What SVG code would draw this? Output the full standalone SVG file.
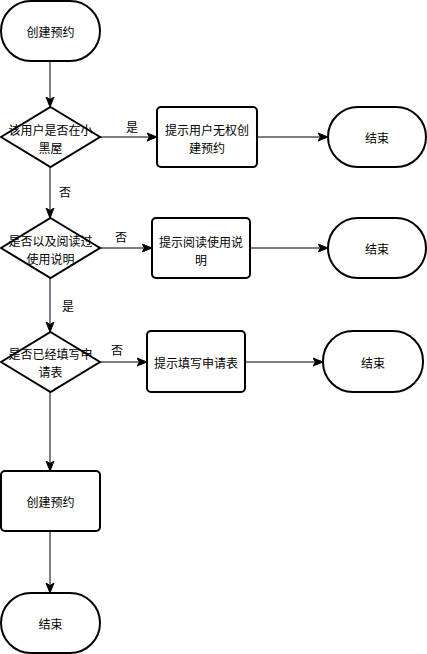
<svg xmlns="http://www.w3.org/2000/svg" width="427" height="654" viewBox="0 0 427 654">
<style>
.s{fill:#fff;stroke:#000;stroke-width:2}
.t{font-family:"Noto Sans CJK SC","Liberation Sans",sans-serif;font-size:12px;fill:#000;text-anchor:middle;dominant-baseline:central}
.c{stroke:#000;stroke-width:1;fill:none;marker-end:url(#a)}
</style>
<defs>
<marker id="a" markerUnits="userSpaceOnUse" markerWidth="10" markerHeight="10" viewBox="0 0 10 10" refX="10" refY="5" orient="auto">
<path d="M0,1 L10,5 L0,9 L2.5,5 z" fill="#000" stroke="#000" stroke-width="1"/>
</marker>
</defs>
<rect width="427" height="654" fill="#fff"/>
<g id="connectors">
<line class="c" x1="50" y1="61" x2="50" y2="107"/>
<line class="c" x1="100" y1="137" x2="157" y2="137"/>
<line class="c" x1="257" y1="137" x2="328" y2="137"/>
<line class="c" x1="50" y1="167" x2="50" y2="218"/>
<line class="c" x1="100" y1="248" x2="152" y2="248"/>
<line class="c" x1="250" y1="248" x2="328" y2="248"/>
<line class="c" x1="50" y1="278" x2="50" y2="332"/>
<line class="c" x1="100" y1="362" x2="147" y2="362"/>
<line class="c" x1="245" y1="362" x2="323" y2="362"/>
<line class="c" x1="50" y1="392" x2="50" y2="471"/>
<line class="c" x1="50" y1="531" x2="50" y2="593"/>
<text class="t" x="132" y="126">是</text>
<text class="t" x="65" y="191">否</text>
<text class="t" x="121" y="236">否</text>
<text class="t" x="68" y="305">是</text>
<text class="t" x="117" y="349">否</text>
</g>
<g id="start">
<rect class="s" x="1" y="1" width="99" height="60" rx="30"/>
<text class="t" x="50.5" y="31">创建预约</text>
</g>
<g id="d1">
<polygon class="s" points="50.5,107 100,137 50.5,167 1,137"/>
<text class="t" x="50.5" y="129">该用户是否在小<tspan x="50.5" dy="17.5">黑屋</tspan></text>
</g>
<g id="b1">
<rect class="s" x="157" y="107" width="100" height="60" rx="4"/>
<text class="t" x="207" y="129">提示用户无权创<tspan x="207" dy="17.5">建预约</tspan></text>
</g>
<g id="e1">
<rect class="s" x="328" y="107" width="98" height="60" rx="30"/>
<text class="t" x="377" y="137">结束</text>
</g>
<g id="d2">
<polygon class="s" points="50.5,218 100,248 50.5,278 1,248"/>
<text class="t" x="50.5" y="240">是否以及阅读过<tspan x="50.5" dy="17.5">使用说明</tspan></text>
</g>
<g id="b2">
<rect class="s" x="152" y="218" width="98" height="60" rx="4"/>
<text class="t" x="201" y="241">提示阅读使用说<tspan x="201" dy="17.5">明</tspan></text>
</g>
<g id="e2">
<rect class="s" x="328" y="218" width="98" height="60" rx="30"/>
<text class="t" x="377" y="248">结束</text>
</g>
<g id="d3">
<polygon class="s" points="50.5,332 100,362 50.5,392 1,362"/>
<text class="t" x="50.5" y="353">是否已经填写申<tspan x="50.5" dy="17.5">请表</tspan></text>
</g>
<g id="b3">
<rect class="s" x="147" y="331" width="98" height="61" rx="4"/>
<text class="t" x="196" y="362">提示填写申请表</text>
</g>
<g id="e3">
<rect class="s" x="323" y="331" width="100" height="61" rx="30"/>
<text class="t" x="373" y="362">结束</text>
</g>
<g id="b4">
<rect class="s" x="1" y="471" width="99" height="60" rx="4"/>
<text class="t" x="50.5" y="501">创建预约</text>
</g>
<g id="end">
<rect class="s" x="1" y="593" width="99" height="60" rx="30"/>
<text class="t" x="50.5" y="623">结束</text>
</g>
</svg>
